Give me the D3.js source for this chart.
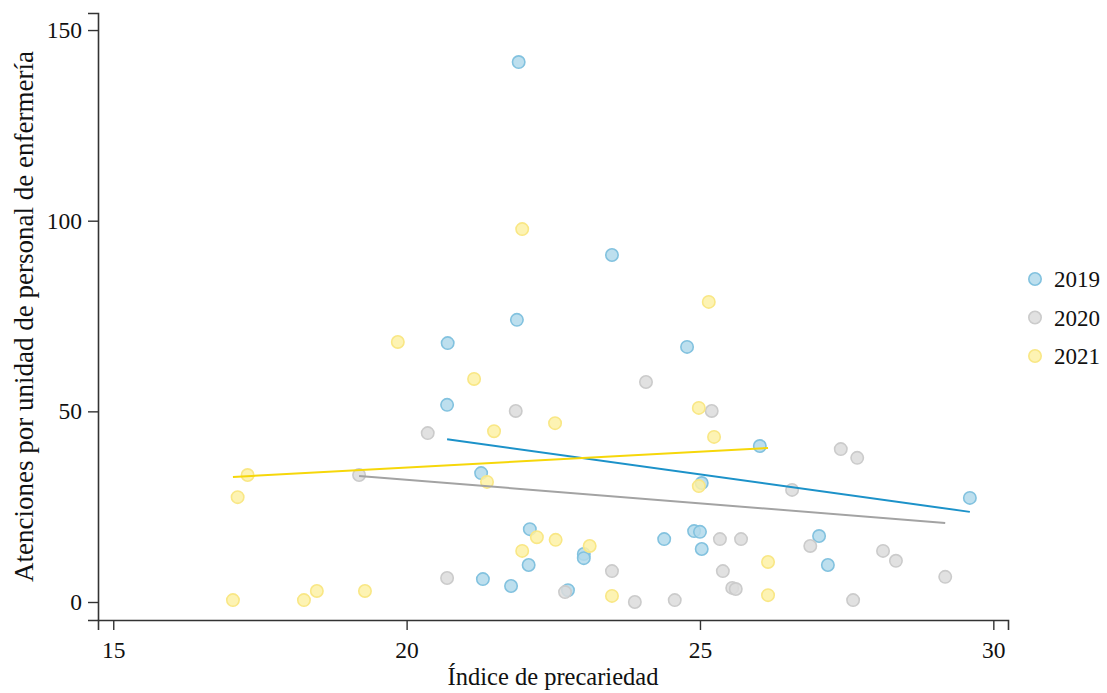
<!DOCTYPE html>
<html>
<head>
<meta charset="utf-8">
<script src="https://cdn.jsdelivr.net/npm/d3@7"></script>
<style>
  html, body { margin: 0; padding: 0; background: #ffffff; }
  svg { display: block; }
  svg text { font-family: "Liberation Serif", "Times New Roman", serif !important; fill: #111; }
</style>
</head>
<body>
<svg id="chart" width="1107" height="693"></svg>
<script>
// ---- data ----
const years = ["2019", "2020", "2021"];

const x2019 = [21.91, 23.50, 21.88, 20.70, 24.78, 20.69, 26.02, 21.27, 25.03, 29.60, 22.10, 24.90,
               25.00, 27.03, 24.39, 22.08, 25.03, 23.02, 23.02, 27.18, 21.30, 21.78, 22.75];
const y2019 = [141.6, 91.0, 74.0, 67.9, 66.9, 51.7, 40.9, 33.8, 31.2, 27.3, 19.1, 18.6,
               18.4, 17.3, 16.5, 9.7, 13.9, 12.6, 11.5, 9.7, 6.0, 4.2, 3.1];

const x2020 = [24.08, 21.86, 25.20, 20.36, 27.40, 27.68, 19.19, 26.57, 25.34, 25.70, 26.88, 28.12,
               28.34, 25.39, 23.50, 20.69, 29.18, 25.55, 25.61, 22.70, 23.89, 24.57, 27.61];
const y2020 = [57.7, 50.1, 50.1, 44.3, 40.1, 37.8, 33.3, 29.4, 16.5, 16.5, 14.7, 13.4,
               10.8, 8.1, 8.1, 6.3, 6.6, 3.7, 3.4, 2.6, 0.0, 0.5, 0.5];

const x2021 = [21.97, 25.15, 19.85, 21.15, 22.53, 21.49, 24.98, 25.24, 21.37, 24.98, 17.29, 17.12,
               22.22, 22.54, 23.12, 21.97, 26.16, 23.50, 26.16, 17.04, 18.25, 18.47, 19.29];
const y2021 = [97.8, 78.7, 68.2, 58.5, 46.9, 44.8, 50.9, 43.3, 31.5, 30.4, 33.3, 27.5,
               17.0, 16.3, 14.7, 13.4, 10.5, 1.6, 1.8, 0.5, 0.5, 2.9, 2.9];

// fitted lines (intercept, slope) as drawn in the reference
const fitIntercept = [86.98, 56.73, 18.60];
const fitSlope = [-2.14, -1.234, 0.833];

const xTicks = [15, 20, 25, 30];
const yTicks = [0, 50, 100, 150];
const xTitle = "Índice de precariedad";
const yTitle = "Atenciones por unidad de personal de enfermería";

// ---- styles ----
const FONT = '"Liberation Serif", "Times New Roman", serif';
const pointFill = ["#b2d9eb", "#dcdcdc", "#fdf1a6"];
const pointStroke = ["#82c2df", "#cbcbcb", "#f9e785"];
const lineColor = ["#1c92c9", "#a3a3a3", "#f6d70a"];

const series = [
  { xs: x2019, ys: y2019 },
  { xs: x2020, ys: y2020 },
  { xs: x2021, ys: y2021 }
];

const svg = d3.select("#chart");
const plot = { left: 98, right: 1008, top: 13, bottom: 620 };

const x = d3.scaleLinear().domain([14.74, 30.25]).range([plot.left, plot.right]);
const y = d3.scaleLinear().domain([-4.72, 154.47]).range([plot.bottom, plot.top]);

// axes
const xAxis = svg.append("g")
  .attr("transform", `translate(0,${plot.bottom})`)
  .call(d3.axisBottom(x).tickValues(xTicks).tickSizeOuter(0).tickSize(10).tickPadding(11).tickFormat(d3.format("d")));
const yAxis = svg.append("g")
  .attr("transform", `translate(${plot.left},0)`)
  .call(d3.axisLeft(y).tickValues(yTicks).tickSizeOuter(0).tickSize(10).tickPadding(6).tickFormat(d3.format("d")));

[xAxis, yAxis].forEach(g => {
  g.attr("font-family", FONT);
  g.select(".domain").attr("stroke", "#333").attr("stroke-width", 1.6);
  g.selectAll(".tick line").attr("stroke", "#333").attr("stroke-width", 1.4);
  g.selectAll(".tick text")
    .style("font-family", FONT)
    .style("font-size", "23.5px").attr("fill", "#111");
});

// points, drawn series by series
series.forEach((s, i) => {
  svg.append("g").selectAll("circle")
    .data(s.xs.map((v, j) => [v, s.ys[j]]))
    .join("circle")
    .attr("cx", d => x(d[0]))
    .attr("cy", d => y(d[1]))
    .attr("r", 6.2)
    .attr("fill", pointFill[i])
    .attr("fill-opacity", 0.85)
    .attr("stroke", pointStroke[i])
    .attr("stroke-width", 1.6);
});

// fitted lines over each series' x-range
series.forEach((s, i) => {
  const [x0, x1] = d3.extent(s.xs);
  const pts = [x0, x1].map(v => [v, fitIntercept[i] + fitSlope[i] * v]);
  svg.append("path")
    .attr("d", d3.line().x(d => x(d[0])).y(d => y(d[1]))(pts))
    .attr("fill", "none")
    .attr("stroke", lineColor[i])
    .attr("stroke-width", 2);
});

// axis titles
svg.append("text")
  .attr("x", 553)
  .attr("y", 685)
  .attr("text-anchor", "middle")
  .style("font-family", FONT)
  .style("font-size", "24.5px")
  .text(xTitle);

svg.append("text")
  .attr("transform", `translate(32.5,316.5) rotate(-90)`)
  .attr("text-anchor", "middle")
  .style("font-family", FONT)
  .style("font-size", "27px")
  .text(yTitle);

// legend
const legend = svg.append("g");
years.forEach((yr, i) => {
  const gy = 279 + i * 38.5;
  legend.append("circle")
    .attr("cx", 1035).attr("cy", gy).attr("r", 6.2)
    .attr("fill", pointFill[i]).attr("fill-opacity", 0.85)
    .attr("stroke", pointStroke[i]).attr("stroke-width", 1.6);
  legend.append("text")
    .attr("x", 1054).attr("y", gy + 8)
    .style("font-family", FONT)
    .style("font-size", "23px")
    .text(yr);
});
</script>
</body>
</html>
